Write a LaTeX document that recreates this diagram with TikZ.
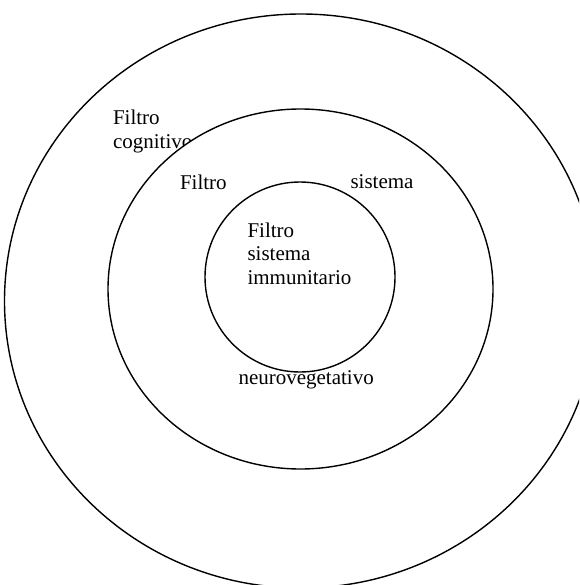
\documentclass[tikz,border=0pt]{standalone}
\usepackage{fontspec}
\setmainfont{Liberation Serif}
\begin{document}
\begin{tikzpicture}[x=1pt,y=-1pt,
  ring/.style={draw=black,line width=1.4pt},
  lbl/.style={anchor=base west,inner sep=0pt,outer sep=0pt,font=\fontsize{21}{24}\selectfont}]
\useasboundingbox (0,0) rectangle (579,585);
\clip (0,0) rectangle (579,585);
\fill[white] (0,0) rectangle (579,585);
% outer ring
\draw[ring] (301,301) ellipse [x radius=296.5pt, y radius=287pt];
\node[lbl] (cog1) at (113,125) {Filtro};
\node[lbl] (cog2) at (113,149) {cognitivo};
% middle ring
\draw[ring,fill=white] (300.5,289) ellipse [x radius=192.5pt, y radius=180pt];
\node[lbl] (neu1) at (180,189.5) {Filtro};
\node[lbl] (neu2) at (350.5,189) {sistema};
\node[lbl] (neu3) at (238.5,384.3) {neurovegetativo};
% inner ring
\draw[ring,fill=white] (300,277) circle [radius=95pt];
\node[lbl] (imm1) at (247.5,237) {Filtro};
\node[lbl] (imm2) at (247.5,260.7) {sistema};
\node[lbl] (imm3) at (247.5,284.3) {immunitario};
\end{tikzpicture}
\end{document}
